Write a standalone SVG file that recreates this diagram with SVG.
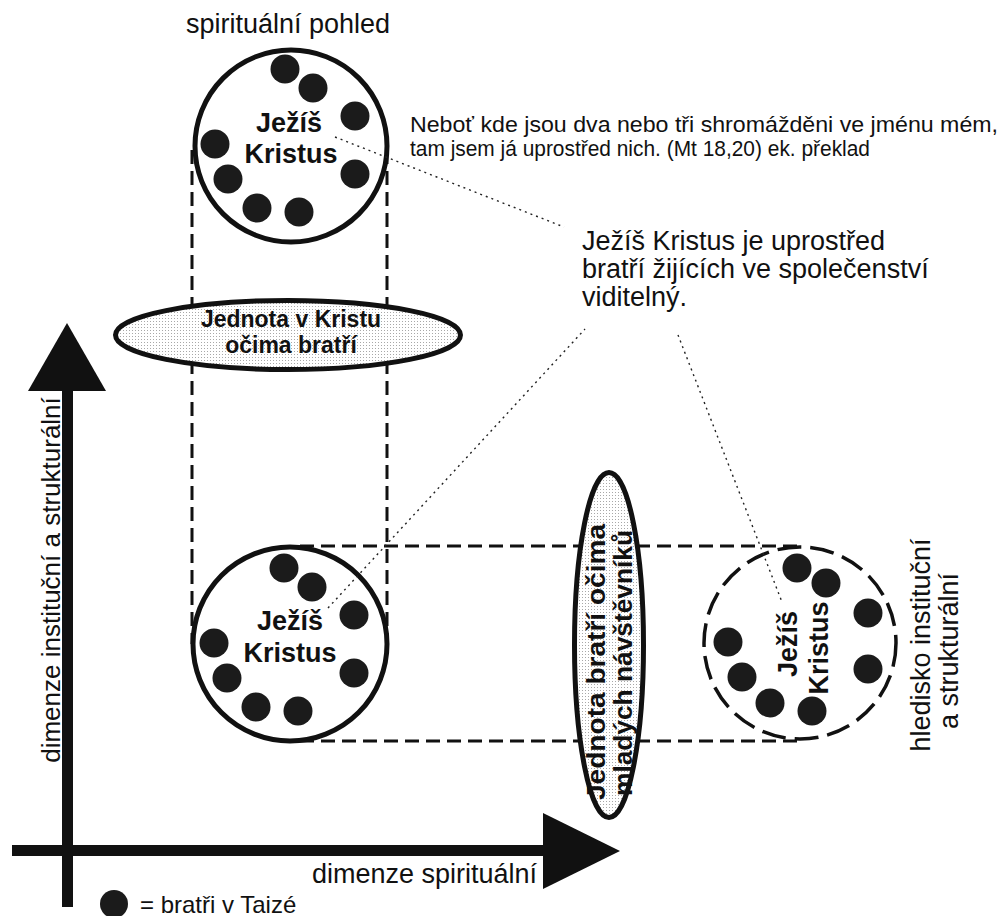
<svg xmlns="http://www.w3.org/2000/svg" width="1008" height="916" viewBox="0 0 1008 916">
<style>
.ring{fill:#fff;stroke:#111;stroke-width:5}
.dring{fill:#fff;stroke:#111;stroke-width:3.5;stroke-dasharray:24 9}
.oval{fill:url(#halftone);stroke:#111;stroke-width:5}
.bro{fill:#1b1b1b}
.dash{fill:none;stroke:#111;stroke-width:3;stroke-dasharray:14 7}
.dot{fill:none;stroke:#222;stroke-width:1.4;stroke-dasharray:2 4}
.axis{fill:#111}
text{font-family:"Liberation Sans",Arial,Helvetica,sans-serif;fill:#111}
.b{font-weight:bold}
.jk{font-weight:bold;font-size:27px;text-anchor:middle}
</style>
<defs>
<pattern id="halftone" width="3" height="3" patternUnits="userSpaceOnUse">
<rect width="3" height="3" fill="#fff"/>
<rect width="1" height="1" fill="#a8a8a8"/>
</pattern>
<g id="brothers">
<circle class="bro" cx="-6" cy="-77" r="14.5"/>
<circle class="bro" cx="22" cy="-58" r="14.5"/>
<circle class="bro" cx="64" cy="-30" r="14.5"/>
<circle class="bro" cx="-76" cy="-2" r="14.5"/>
<circle class="bro" cx="64" cy="28" r="14.5"/>
<circle class="bro" cx="-63" cy="33" r="14.5"/>
<circle class="bro" cx="-34" cy="62" r="14.5"/>
<circle class="bro" cx="8" cy="66" r="14.5"/>
</g>
</defs>
<rect width="1008" height="916" fill="#fff"/>

<g id="frame-lines">
<line class="dash" x1="192" y1="150" x2="192" y2="644"/>
<line class="dash" x1="387" y1="150" x2="387" y2="644"/>
<line class="dash" x1="300" y1="546" x2="800" y2="546"/>
<line class="dash" x1="300" y1="741" x2="800" y2="741"/>
</g>

<g id="axes">
<rect class="axis" x="62" y="388" width="11" height="519"/>
<polygon class="axis" points="67,323 106,391 28,391"/>
<rect class="axis" x="12" y="845" width="534" height="11"/>
<polygon class="axis" points="620,851 543,813 543,889"/>
<text x="0" y="0" font-size="26" text-anchor="middle" transform="translate(60 580) rotate(-90)">dimenze instituční a strukturální</text>
<text x="537" y="883" font-size="27" text-anchor="end">dimenze spirituální</text>
</g>

<g id="top-circle">
<text x="288" y="33" font-size="27" text-anchor="middle">spirituální pohled</text>
<circle class="ring" cx="291" cy="146" r="96"/>
<use href="#brothers" transform="translate(291 146)"/>
<text class="jk" x="289" y="132">Ježíš</text>
<text class="jk" x="291" y="163">Kristus</text>
</g>

<g id="unity-ellipse">
<ellipse class="oval" cx="288" cy="335" rx="172.5" ry="34.5"/>
<text class="b" x="291" y="327" font-size="23" text-anchor="middle">Jednota v Kristu</text>
<text class="b" x="291" y="353" font-size="23" text-anchor="middle">očima bratří</text>
</g>

<g id="bottom-circle">
<circle class="ring" cx="290" cy="644" r="97"/>
<use href="#brothers" transform="translate(290 645)"/>
<text class="jk" x="290" y="630">Ježíš</text>
<text class="jk" x="290" y="662">Kristus</text>
</g>

<g id="visitors-ellipse">
<ellipse class="oval" cx="609" cy="645" rx="34.5" ry="172.5"/>
<text class="b" x="0" y="0" font-size="25" text-anchor="middle" textLength="276" lengthAdjust="spacingAndGlyphs" transform="translate(605 662) rotate(-90)">Jednota bratří očima</text>
<text class="b" x="0" y="0" font-size="25" text-anchor="middle" textLength="266" lengthAdjust="spacingAndGlyphs" transform="translate(632 663) rotate(-90)">mladých návštěvníků</text>
</g>

<g id="right-circle">
<circle class="dring" cx="800" cy="643" r="96"/>
<circle class="bro" cx="797" cy="568" r="14.5"/>
<circle class="bro" cx="826" cy="583" r="14.5"/>
<circle class="bro" cx="868" cy="613" r="14.5"/>
<circle class="bro" cx="728" cy="642" r="14.5"/>
<circle class="bro" cx="868" cy="669" r="14.5"/>
<circle class="bro" cx="742" cy="677" r="14.5"/>
<circle class="bro" cx="770" cy="703" r="14.5"/>
<circle class="bro" cx="812" cy="711" r="14.5"/>
<text class="jk" x="0" y="0" transform="translate(797 644) rotate(-90)">Ježíš</text>
<text class="jk" x="0" y="0" transform="translate(828 648) rotate(-90)">Kristus</text>
<text x="0" y="0" font-size="27" text-anchor="middle" transform="translate(930 645) rotate(-90)">hledisko instituční</text>
<text x="0" y="0" font-size="27" text-anchor="middle" transform="translate(958 651) rotate(-90)">a strukturální</text>
</g>

<g id="quote">
<text x="410" y="132" font-size="22" textLength="588" lengthAdjust="spacingAndGlyphs">Neboť kde jsou dva nebo tři shromážděni ve jménu mém,</text>
<text x="410" y="156" font-size="22" textLength="460" lengthAdjust="spacingAndGlyphs">tam jsem já uprostřed nich. (Mt 18,20) ek. překlad</text>
</g>

<g id="statement">
<text x="582" y="250" font-size="27">Ježíš Kristus je uprostřed</text>
<text x="582" y="278" font-size="27">bratří žijících ve společenství</text>
<text x="582" y="306" font-size="27">viditelný.</text>
</g>

<g id="connectors">
<line class="dot" x1="335" y1="137" x2="564" y2="227"/>
<line class="dot" x1="328" y1="608" x2="585" y2="329"/>
<line class="dot" x1="678" y1="335" x2="782" y2="602"/>
</g>

<g id="legend">
<circle class="bro" cx="114" cy="904" r="14"/>
<text x="140" y="913" font-size="24">= bratři v Taizé</text>
</g>
</svg>
